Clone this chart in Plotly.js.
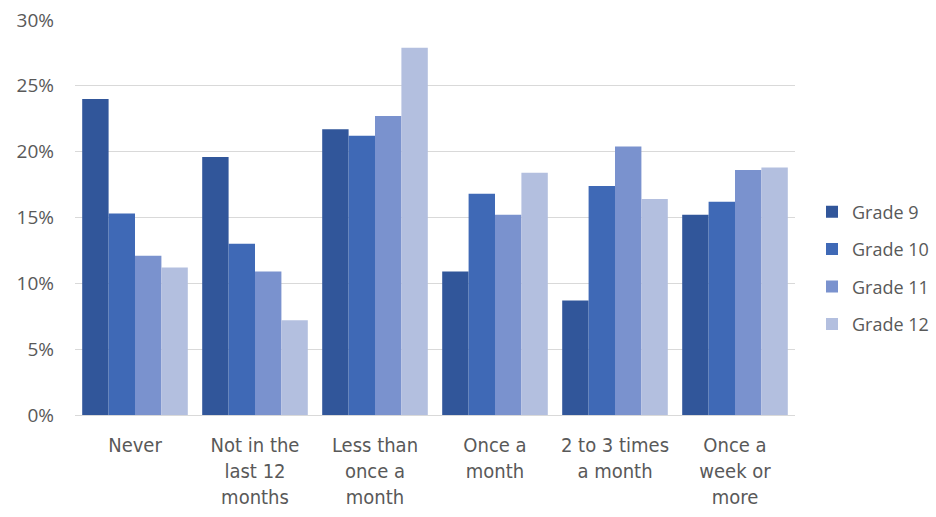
<!DOCTYPE html>
<html>
<head>
<meta charset="utf-8">
<script src="https://cdn.plot.ly/plotly-3.0.1.min.js"></script>
<style>html,body{margin:0;padding:0;background:#fff;}#chart{width:936px;height:517px;}</style>
</head>
<body>
<div id="chart"></div>
<script>
const categories = ["Never", "Not in the<br>last 12<br>months", "Less than<br>once a<br>month", "Once a<br>month", "2 to 3 times<br>a month", "Once a<br>week or<br>more"];
const seriesNames = ["Grade 9", "Grade 10", "Grade 11", "Grade 12"];
const grade9 = [24.0, 19.6, 21.7, 10.9, 8.7, 15.2];
const grade10 = [15.3, 13.0, 21.2, 16.8, 17.4, 16.2];
const grade11 = [12.1, 10.9, 22.7, 15.2, 20.4, 18.6];
const grade12 = [11.2, 7.2, 27.9, 18.4, 16.4, 18.8];
const colors = ["#31569A", "#3F69B6", "#7A92CE", "#B3BFDF"];
const yTickVals = [0, 5, 10, 15, 20, 25, 30];
const yTickText = ["0%", "5%", "10%", "15%", "20%", "25%", "30%"];

const values = [grade9, grade10, grade11, grade12];
const traces = values.map((v, i) => ({
  type: "bar",
  name: seriesNames[i],
  x: categories,
  y: v,
  marker: {color: colors[i], line: {width: 0}},
  legendgroup: "g" + i,
  hoverinfo: "x+y"
}));

const layout = {
  width: 936, height: 517,
  margin: {l: 75, r: 141, t: 20, b: 101.5},
  paper_bgcolor: "#ffffff", plot_bgcolor: "#ffffff",
  barmode: "group", bargap: 0.12, bargroupgap: 0,
  font: {family: "Open Sans, Noto Sans, sans-serif", color: "#595959", size: 18},
  xaxis: {
    type: "category",
    showline: true, linecolor: "#d9d9d9", linewidth: 1,
    ticks: "", showgrid: false,
    tickfont: {family: "DejaVu Sans Condensed, Liberation Sans, sans-serif", size: 20, color: "#595959"},
    tickangle: 0,
    ticklabelstandoff: 12,
    automargin: false
  },
  yaxis: {
    range: [0, 30], tickvals: yTickVals, ticktext: yTickText,
    showgrid: true, gridcolor: "#d9d9d9", gridwidth: 1,
    zeroline: false, showline: false, ticks: "",
    tickfont: {family: "Open Sans, Noto Sans, sans-serif", size: 19, color: "#595959"},
    ticklabelstandoff: 20,
    automargin: false
  },
  legend: {
    xref: "container", yref: "container",
    x: 812 / 936, xanchor: "left", y: 1 - 268 / 517, yanchor: "middle",
    font: {family: "Open Sans, Noto Sans, sans-serif", size: 18, color: "#595959"},
    traceorder: "grouped", tracegroupgap: 11,
    bgcolor: "rgba(0,0,0,0)", itemwidth: 30
  },
  showlegend: true
};

Plotly.newPlot("chart", traces, layout, {displayModeBar: false, staticPlot: true});
</script>
</body>
</html>
